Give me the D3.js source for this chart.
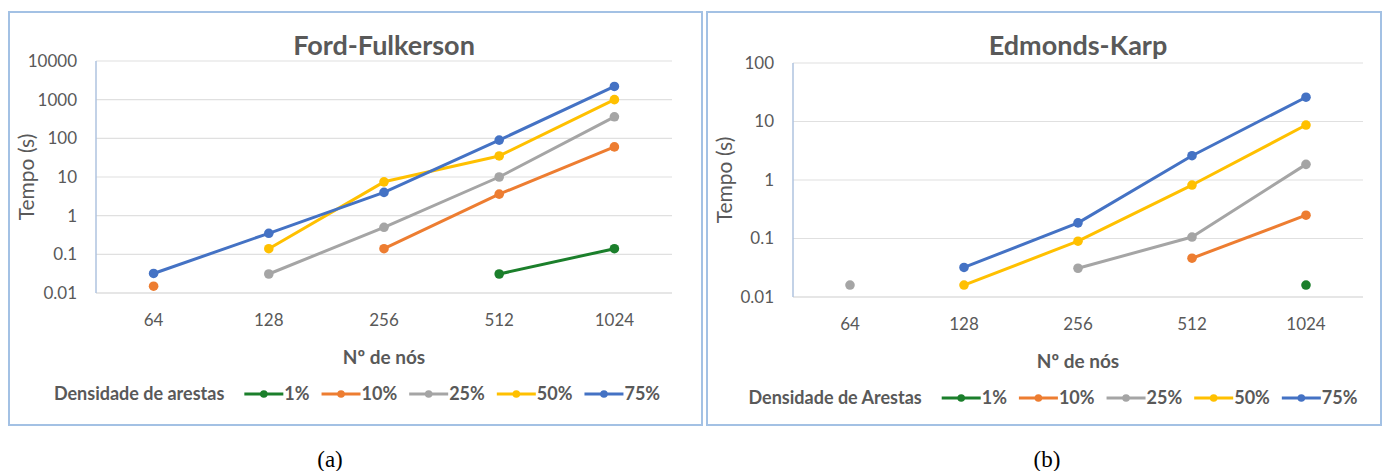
<!DOCTYPE html>
<html>
<head>
<meta charset="utf-8">
<script src="https://cdn.jsdelivr.net/npm/d3@7"></script>
<style>
  html, body { margin: 0; padding: 0; background: #ffffff; }
  svg { display: block; }
  text { font-family: Lato, "Open Sans", sans-serif; fill: #595959; }
</style>
</head>
<body>
<svg id="fig" width="1387" height="471"></svg>
<script>
// Number of nodes (x categories) and edge densities (series)
const nodes = ["64", "128", "256", "512", "1024"];
const densities = ["1%", "10%", "25%", "50%", "75%"];
const seriesColors = ["#1B7F2B", "#ED7D31", "#A5A5A5", "#FFC000", "#4472C4"];

// Ford-Fulkerson running times (s), null = not measured
const ff1  = [null, null, null, 0.031, 0.14];
const ff10 = [0.015, null, 0.14, 3.6, 60];
const ff25 = [null, 0.031, 0.5, 10, 360];
const ff50 = [null, 0.14, 7.5, 35, 1000];
const ff75 = [0.032, 0.35, 4, 90, 2200];

// Edmonds-Karp running times (s)
const ek1  = [null, null, null, null, 0.016];
const ek10 = [null, null, null, 0.046, 0.25];
const ek25 = [0.016, null, 0.031, 0.106, 1.85];
const ek50 = [null, 0.016, 0.09, 0.82, 8.7];
const ek75 = [null, 0.032, 0.185, 2.6, 26];

// Tick labels of the log axes
const ffTicks = [0.01, 0.1, 1, 10, 100, 1000, 10000];
const ekTicks = [0.01, 0.1, 1, 10, 100];

const svg = d3.select("#fig");

function fmt(v) { return String(v); }

function drawChart(cfg) {
  const g = svg.append("g");

  // outer frame
  g.append("rect")
    .attr("x", cfg.frame[0]).attr("y", cfg.frame[1])
    .attr("width", cfg.frame[2] - cfg.frame[0]).attr("height", cfg.frame[3] - cfg.frame[1])
    .attr("fill", "#ffffff").attr("stroke", "#A3C1E4").attr("stroke-width", 2);

  const x = d3.scalePoint().domain(nodes).range([cfg.left, cfg.right]).padding(0.5);
  const y = d3.scaleLog().domain([cfg.ticks[0], cfg.ticks[cfg.ticks.length - 1]]).range([cfg.bottom, cfg.top]);

  // horizontal gridlines
  g.append("g").selectAll("line").data(cfg.ticks).join("line")
    .attr("x1", cfg.left).attr("x2", cfg.right)
    .attr("y1", d => y(d)).attr("y2", d => y(d))
    .attr("stroke", (d, i) => i === 0 ? "#CDCDCD" : "#E0E0E0").attr("stroke-width", 1.2);

  // vertical axis line
  g.append("line")
    .attr("x1", cfg.left).attr("x2", cfg.left)
    .attr("y1", cfg.top).attr("y2", cfg.bottom)
    .attr("stroke", "#AFC3DF").attr("stroke-width", 1.5);

  // y tick labels
  g.append("g").selectAll("text").data(cfg.ticks).join("text")
    .attr("x", cfg.left - 19).attr("y", d => y(d))
    .attr("dy", "0.35em").attr("text-anchor", "end")
    .style("font-size", "17px")
    .text(fmt);

  // x tick labels
  g.append("g").selectAll("text").data(nodes).join("text")
    .attr("x", d => x(d)).attr("y", cfg.bottom + 27)
    .attr("dy", "0.35em").attr("text-anchor", "middle")
    .style("font-size", "17px")
    .text(d => d);

  // chart title
  g.append("text")
    .attr("x", (cfg.left + cfg.right) / 2).attr("y", cfg.titleY)
    .attr("text-anchor", "middle")
    .style("font-size", "27px").style("font-weight", "bold")
    .text(cfg.title);

  // axis titles
  g.append("text")
    .attr("transform", `translate(${cfg.yTitleX},${(cfg.top + cfg.bottom) / 2}) rotate(-90)`)
    .attr("text-anchor", "middle").attr("dy", "0.35em")
    .style("font-size", "21px")
    .text("Tempo (s)");

  g.append("text")
    .attr("x", (cfg.left + cfg.right) / 2).attr("y", cfg.bottom + 64)
    .attr("text-anchor", "middle").attr("dy", "0.35em")
    .style("font-size", "19px").style("font-weight", "bold")
    .text("Nº de nós");

  // series lines and markers
  const line = d3.line()
    .defined(d => d.v != null)
    .x(d => x(d.n)).y(d => y(d.v));

  cfg.series.forEach((vals, i) => {
    const pts = vals.map((v, j) => ({ n: nodes[j], v }));
    g.append("path")
      .datum(pts)
      .attr("d", line)
      .attr("fill", "none").attr("stroke", seriesColors[i])
      .attr("stroke-width", 3).attr("stroke-linejoin", "round");
    g.append("g").selectAll("circle").data(pts.filter(d => d.v != null)).join("circle")
      .attr("cx", d => x(d.n)).attr("cy", d => y(d.v)).attr("r", 4.8)
      .attr("fill", seriesColors[i]);
  });

  // legend
  const lg = g.append("g");
  let cx = 0;
  const label = lg.append("text").attr("x", cx).attr("y", 0).attr("dy", "0.35em")
    .style("font-size", "18px").style("font-weight", "bold")
    .text(cfg.legendTitle);
  cx += label.node().getComputedTextLength() + 20;
  densities.forEach((d, i) => {
    lg.append("line").attr("x1", cx).attr("x2", cx + 39).attr("y1", 0).attr("y2", 0)
      .attr("stroke", seriesColors[i]).attr("stroke-width", 3);
    lg.append("circle").attr("cx", cx + 19.5).attr("cy", 0).attr("r", 3.8).attr("fill", seriesColors[i]);
    cx += 40;
    const t = lg.append("text").attr("x", cx).attr("y", 0).attr("dy", "0.35em")
      .style("font-size", "18px").style("font-weight", "bold")
      .text(d);
    cx += t.node().getComputedTextLength() + 12;
  });
  cx -= 12;
  lg.attr("transform", `translate(${cfg.legendCx - cx / 2},${cfg.legendY})`);

  // caption below the frame
  svg.append("text")
    .attr("x", cfg.captionX).attr("y", 459).attr("dy", "0.35em")
    .attr("text-anchor", "middle")
    .style("font-family", "'Liberation Serif', 'Times New Roman', serif")
    .style("font-size", "23px").style("fill", "#000000")
    .text(cfg.caption);
}

drawChart({
  frame: [9, 12, 702, 425],
  left: 96, right: 672, top: 61, bottom: 293,
  ticks: ffTicks,
  title: "Ford-Fulkerson", titleY: 55,
  yTitleX: 27,
  series: [ff1, ff10, ff25, ff50, ff75],
  legendTitle: "Densidade de arestas", legendCx: 357, legendY: 394,
  caption: "(a)", captionX: 330
});

drawChart({
  frame: [707, 12, 1381, 425],
  left: 793, right: 1363, top: 63, bottom: 297,
  ticks: ekTicks,
  title: "Edmonds-Karp", titleY: 55,
  yTitleX: 725,
  series: [ek1, ek10, ek25, ek50, ek75],
  legendTitle: "Densidade de Arestas", legendCx: 1053, legendY: 398,
  caption: "(b)", captionX: 1047
});
</script>
</body>
</html>
